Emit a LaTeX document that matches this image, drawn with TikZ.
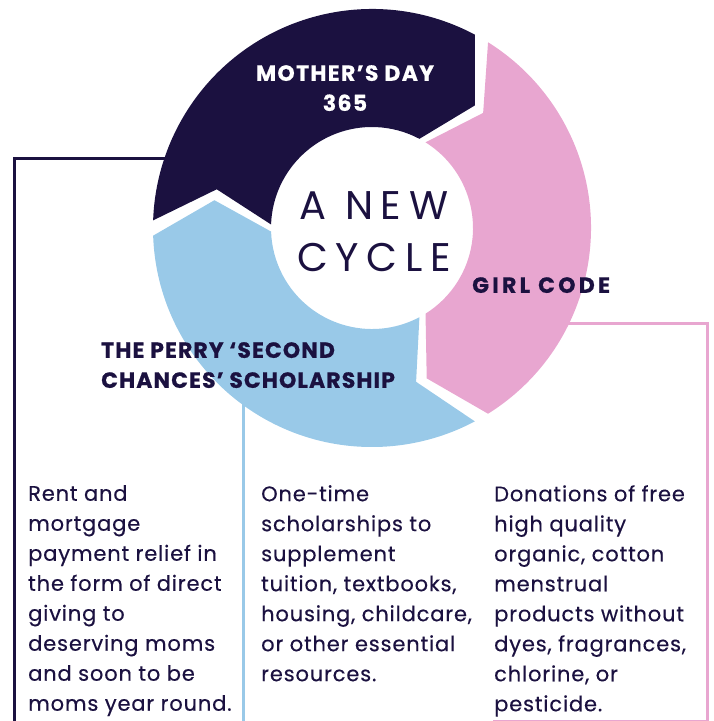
\documentclass[tikz,border=0pt]{standalone}
\usepackage{fontspec}
\setmainfont{Poppins}
\newfontfamily\bodyfont{Poppins}[FakeBold=0.35,LetterSpace=4]
\newfontfamily\headfont{Poppins}[FakeBold=0.6,LetterSpace=5]
\definecolor{navy}{HTML}{1B1140}
\definecolor{rose}{HTML}{E8A6D0}
\definecolor{sky}{HTML}{99C9E8}
\begin{document}
\begin{tikzpicture}[x=1pt,y=-1pt,
  boxline/.style={line width=3pt},
  body/.style={anchor=north west,inner sep=0pt,align=left,text=navy,font=\bodyfont\fontsize{21}{30}\selectfont},
  head/.style={inner sep=0pt,font=\headfont\bfseries\fontsize{22}{30}\selectfont}]
\useasboundingbox (0,0) rectangle (714,721);
% box frames
\draw[boxline,navy] (200,158) -- (14,158) -- (14,725);
\draw[boxline,sky] (243,380) -- (243,725);
\draw[boxline,rose] (560,323) -- (707,323) -- (707,721) -- (493,721);
% ring
\begin{scope}[x=1pt,y=1pt,shift={(372pt,-228pt)}]
\def\R{219}\def\r{101}\def\m{160}\def\d{12}
\fill[navy] (178:\R) -- (178-\d:\m) -- (178:\r) arc[start angle=178,end angle=62,radius=\r]
  -- (62-\d:\m) -- (62:\R) arc[start angle=62,end angle=178,radius=\R] -- cycle;
\fill[rose] (58:\R) -- (58-\d:\m) -- (58:\r) arc[start angle=58,end angle=-58,radius=\r]
  -- (-58-\d:\m) -- (-58:\R) arc[start angle=-58,end angle=58,radius=\R] -- cycle;
\fill[sky] (-62:\R) -- (-62-\d:\m) -- (-62:\r) arc[start angle=-62,end angle=-178,radius=\r]
  -- (-178-\d:\m) -- (-178:\R) arc[start angle=-178,end angle=-62,radius=\R] -- cycle;
\end{scope}
% centre
\node[inner sep=0pt,align=center,text=navy,font=\addfontfeatures{LetterSpace=19}\fontsize{40}{52}\selectfont] (cyc) at (374,232) {A NEW\\CYCLE};
% headings
\node[head,anchor=north,align=center,text=white,font=\headfont\bfseries\addfontfeatures{LetterSpace=6}\fontsize{22}{30}\selectfont] (md) at (345,65) {MOTHER’S DAY\\365};
\node[head,anchor=north west,text=navy,font=\headfont\bfseries\addfontfeatures{LetterSpace=15}\fontsize{22}{30}\selectfont] (gc) at (472,277) {GIRL CODE};
\node[head,anchor=north west,align=left,text=navy] (ps) at (101,342) {THE PERRY ‘SECOND\\CHANCES’ SCHOLARSHIP};
% body
\node[body] (t1) at (28,485) {Rent and\\mortgage\\payment relief in\\the form of direct\\giving to\\deserving moms\\and soon to be\\moms year round.};
\node[body] (t2) at (261,485) {One-time\\scholarships to\\supplement\\tuition, textbooks,\\housing, childcare,\\or other essential\\resources.};
\node[body] (t3) at (494,485) {Donations of free\\high quality\\organic, cotton\\menstrual\\products without\\dyes, fragrances,\\chlorine, or\\pesticide.};
\end{tikzpicture}
\end{document}
